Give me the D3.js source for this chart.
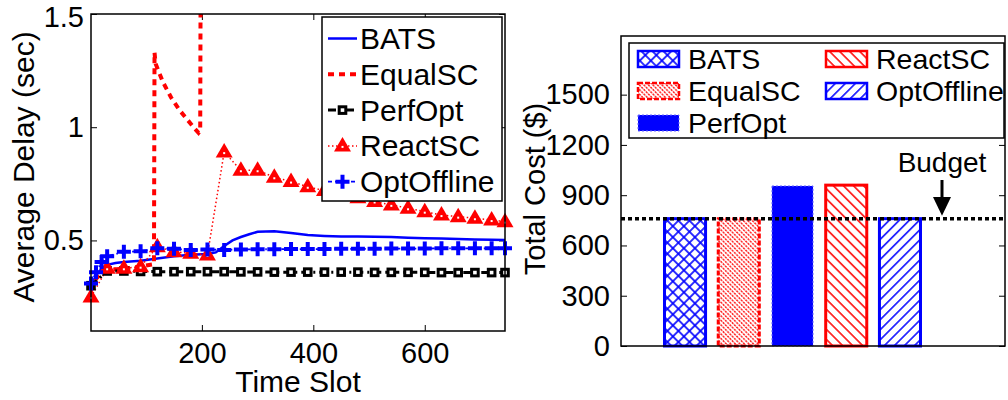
<!DOCTYPE html>
<html>
<head>
<meta charset="utf-8">
<script src="https://cdn.jsdelivr.net/npm/d3@7"></script>
<style>
  html, body { margin: 0; padding: 0; background: #fff; }
  svg text { font-family: "Liberation Sans", Arial, Helvetica, sans-serif; fill: #000; }
</style>
</head>
<body>
<svg id="chart" width="1008" height="400"></svg>
<script>
// ---------------- Average delay per time slot ----------------
const batsSlots  = [1, 10, 20, 30, 45, 60, 90, 120, 150, 180, 210, 225, 240, 255, 270, 285, 300, 330, 360, 390, 420, 450, 480, 510, 540, 570, 600, 630, 660, 690, 720, 744];
const batsDelay  = [0.30, 0.345, 0.375, 0.392, 0.40, 0.405, 0.41, 0.42, 0.43, 0.437, 0.44, 0.447, 0.475, 0.50, 0.515, 0.527, 0.538, 0.54, 0.533, 0.524, 0.52, 0.517, 0.517, 0.516, 0.515, 0.512, 0.51, 0.508, 0.506, 0.504, 0.503, 0.502];

const equalSlots = [1, 10, 20, 30, 60, 90, 114, 115, 117, 130, 145, 160, 175, 185, 194, 197, 198, 744];
const equalDelay = [0.28, 0.33, 0.355, 0.37, 0.375, 0.385, 0.395, 1.33, 1.28, 1.20, 1.13, 1.075, 1.03, 1.0, 0.975, 0.985, 1.9, 2.1];

const perfSlots  = [1, 30, 60, 90, 120, 150, 180, 210, 240, 270, 300, 330, 360, 390, 420, 450, 480, 510, 540, 570, 600, 630, 660, 690, 720, 744];
const perfDelay  = [0.30, 0.365, 0.365, 0.363, 0.362, 0.362, 0.362, 0.362, 0.362, 0.361, 0.361, 0.36, 0.36, 0.36, 0.36, 0.36, 0.36, 0.359, 0.359, 0.359, 0.359, 0.358, 0.358, 0.358, 0.358, 0.358];

const reactSlots = [1, 30, 60, 90, 120, 150, 180, 210, 240, 270, 300, 330, 360, 390, 420, 450, 480, 510, 540, 570, 600, 630, 660, 690, 720, 744];
const reactDelay = [0.25, 0.377, 0.377, 0.384, 0.472, 0.45, 0.443, 0.436, 0.89, 0.81, 0.81, 0.779, 0.76, 0.737, 0.72, 0.703, 0.688, 0.672, 0.657, 0.642, 0.627, 0.612, 0.605, 0.598, 0.59, 0.583];

const offSlots   = [1, 10, 20, 30, 60, 90, 120, 150, 180, 210, 240, 270, 300, 330, 360, 390, 420, 450, 480, 510, 540, 570, 600, 630, 660, 690, 720, 744];
const offDelay   = [0.31, 0.36, 0.405, 0.43, 0.45, 0.452, 0.465, 0.463, 0.458, 0.46, 0.458, 0.46, 0.461, 0.461, 0.462, 0.462, 0.462, 0.463, 0.463, 0.463, 0.464, 0.464, 0.464, 0.465, 0.465, 0.465, 0.465, 0.465];

const slotTicks  = [200, 400, 600];
const delayTicks = [0.5, 1, 1.5];

// ---------------- Total cost per scheme ----------------
const schemes    = ["BATS", "EqualSC", "PerfOpt", "ReactSC", "OptOffline"];
const totalCost  = [760, 760, 955, 960, 760];
const budget     = 760;
const costTicks  = [0, 300, 600, 900, 1200, 1500];

const BLUE = "#0000ff", RED = "#ff0000", BLACK = "#000000";
const svg = d3.select("#chart");
const FONT = "'Liberation Sans', Arial, Helvetica, sans-serif";

// ================= Left panel: delay lines =================
const L = { x0: 91, x1: 505, y0: 14, y1: 331 };
const xSlot  = d3.scaleLinear().domain([1, 744]).range([L.x0, L.x1]);
const yDelay = d3.scaleLinear().domain([0.1, 1.5]).range([L.y1, L.y0]);

const defs = svg.append("defs");
defs.append("clipPath").attr("id", "clipLeft")
  .append("rect").attr("x", L.x0).attr("y", L.y0)
  .attr("width", L.x1 - L.x0).attr("height", L.y1 - L.y0);

const fmt = d => d3.format("~g")(d);

function styleAxis(g, size) {
  g.attr("font-family", FONT).attr("font-size", size);
  g.select(".domain").remove();
  g.selectAll(".tick line").attr("stroke", BLACK).attr("stroke-width", 1);
  g.selectAll(".tick text").attr("fill", BLACK);
}

svg.append("g").attr("transform", `translate(0,${L.y1})`)
  .call(d3.axisBottom(xSlot).tickValues(slotTicks).tickSize(-6).tickPadding(11).tickFormat(fmt))
  .call(g => styleAxis(g, 29));
svg.append("g").attr("transform", `translate(0,${L.y0})`)
  .call(d3.axisTop(xSlot).tickValues(slotTicks).tickSize(-6).tickFormat(""))
  .call(g => styleAxis(g, 29));
svg.append("g").attr("transform", `translate(${L.x0},0)`)
  .call(d3.axisLeft(yDelay).tickValues(delayTicks).tickSize(-6).tickPadding(7).tickFormat(fmt))
  .call(g => styleAxis(g, 29))
  // the top label sits a little below its tick so it stays inside the page
  .call(g => g.selectAll(".tick text").filter(d => d === 1.5).attr("y", 3));
svg.append("g").attr("transform", `translate(${L.x1},0)`)
  .call(d3.axisRight(yDelay).tickValues(delayTicks).tickSize(-6).tickFormat(""))
  .call(g => styleAxis(g, 29));

const series = [
  { name: "BATS",       slots: batsSlots,  delay: batsDelay,  color: BLUE,  width: 2.5, dash: null,          marker: null },
  { name: "EqualSC",    slots: equalSlots, delay: equalDelay, color: RED,   width: 4,   dash: "6,5",         marker: null },
  { name: "PerfOpt",    slots: perfSlots,  delay: perfDelay,  color: BLACK, width: 3,   dash: "8,4,2,4",     marker: "square" },
  { name: "ReactSC",    slots: reactSlots, delay: reactDelay, color: RED,   width: 1.5, dash: "1.5,2.5",     marker: "triangle" },
  { name: "OptOffline", slots: offSlots,   delay: offDelay,   color: BLUE,  width: 1.8, dash: "4,3,1.5,3",   marker: "plus" }
];

const lineGen = d3.line().x(d => xSlot(d[0])).y(d => yDelay(d[1]));

function drawMarker(g, type, x, y, color) {
  if (type === "square") {
    g.append("rect").attr("x", x - 3.3).attr("y", y - 3.3).attr("width", 6.6).attr("height", 6.6)
      .attr("fill", "#fff").attr("stroke", color).attr("stroke-width", 3);
  } else if (type === "triangle") {
    g.append("path").attr("d", `M${x},${y - 9}L${x + 8.5},${y + 5.5}L${x - 8.5},${y + 5.5}Z`)
      .attr("fill", color);
    g.append("rect").attr("x", x - 1).attr("y", y).attr("width", 2).attr("height", 2).attr("fill", "#fff");
  } else if (type === "plus") {
    g.append("path").attr("d", `M${x - 7},${y}H${x + 7}M${x},${y - 7}V${y + 7}`)
      .attr("stroke", color).attr("stroke-width", 4).attr("fill", "none");
  }
}

const linesG = svg.append("g").attr("clip-path", "url(#clipLeft)");
series.forEach(s => {
  const pts = s.slots.map((t, i) => [t, s.delay[i]]);
  linesG.append("path").datum(pts)
    .attr("d", lineGen).attr("fill", "none")
    .attr("stroke", s.color).attr("stroke-width", s.width)
    .attr("stroke-dasharray", s.dash);
});
const markG = svg.append("g");
series.forEach(s => {
  if (!s.marker) return;
  s.slots.forEach((t, i) => {
    if (s.delay[i] > 1.5) return;
    drawMarker(markG, s.marker, xSlot(t), yDelay(s.delay[i]), s.color);
  });
});

svg.append("rect").attr("x", L.x0).attr("y", L.y0)
  .attr("width", L.x1 - L.x0).attr("height", L.y1 - L.y0)
  .attr("fill", "none").attr("stroke", BLACK).attr("stroke-width", 1.5);

// legend for the delay panel
const lg = svg.append("g");
lg.append("rect").attr("x", 322).attr("y", 17).attr("width", 180).attr("height", 184)
  .attr("fill", "#fff").attr("stroke", BLACK).attr("stroke-width", 1.5);
series.forEach((s, i) => {
  const y = 38.5 + i * 35.8;
  lg.append("line").attr("x1", 328).attr("x2", 357).attr("y1", y).attr("y2", y)
    .attr("stroke", s.color).attr("stroke-width", s.width).attr("stroke-dasharray", s.dash);
  if (s.marker) drawMarker(lg, s.marker, 342.5, y, s.color);
  lg.append("text").attr("x", 360).attr("y", y + 10.5).attr("font-size", 30).text(s.name);
});

svg.append("text").attr("x", (L.x0 + L.x1) / 2).attr("y", 392)
  .attr("text-anchor", "middle").attr("font-size", 30).text("Time Slot");
svg.append("text").attr("transform", "translate(34,167) rotate(-90)")
  .attr("text-anchor", "middle").attr("font-size", 30).text("Average Delay (sec)");

// ================= Right panel: total cost bars =================
const R = { x0: 621, x1: 1005, y0: 36, y1: 346 };
const xScheme = d3.scaleBand().domain(schemes).range([663, 922]).paddingInner(0.18).paddingOuter(0);
const yCost = d3.scaleLinear().domain([0, 1850]).range([R.y1, R.y0]);

function hatch(id, color, spacing, angle, width, dash) {
  const p = defs.append("pattern").attr("id", id)
    .attr("patternUnits", "userSpaceOnUse").attr("width", spacing).attr("height", spacing)
    .attr("patternTransform", `rotate(${angle})`);
  p.append("line").attr("x1", spacing / 2).attr("x2", spacing / 2).attr("y1", 0).attr("y2", spacing)
    .attr("stroke", color).attr("stroke-width", width).attr("stroke-dasharray", dash || null);
  return p;
}
const cross = hatch("patBats", BLUE, 7.8, 45, 1.6);
cross.append("line").attr("x1", 0).attr("x2", 7.8).attr("y1", 3.9).attr("y2", 3.9)
  .attr("stroke", BLUE).attr("stroke-width", 1.6);
hatch("patEqual", RED, 3.2, -45, 1.3, "2,1");
hatch("patReact", RED, 7.1, -45, 1.5);
hatch("patOff", BLUE, 7.1, 45, 1.5);

const barStyle = {
  BATS:       { fill: "url(#patBats)",  stroke: BLUE, dash: null,  sw: 3 },
  EqualSC:    { fill: "url(#patEqual)", stroke: RED,  dash: "5,2", sw: 3 },
  PerfOpt:    { fill: BLUE,             stroke: "#6a6aff", dash: "2,2", sw: 1 },
  ReactSC:    { fill: "url(#patReact)", stroke: RED,  dash: null,  sw: 3 },
  OptOffline: { fill: "url(#patOff)",   stroke: BLUE, dash: null,  sw: 3 }
};

svg.append("g").attr("transform", `translate(${R.x0},0)`)
  .call(d3.axisLeft(yCost).tickValues(costTicks).tickSize(-6).tickPadding(11).tickFormat(fmt))
  .call(g => styleAxis(g, 29));
svg.append("g").attr("transform", `translate(${R.x1},0)`)
  .call(d3.axisRight(yCost).tickValues(costTicks).tickSize(-6).tickFormat(""))
  .call(g => styleAxis(g, 29));

svg.append("g").selectAll("rect").data(schemes).join("rect")
  .attr("x", d => xScheme(d) + 1.5)
  .attr("width", xScheme.bandwidth() - 3)
  .attr("y", (d, i) => yCost(totalCost[i]))
  .attr("height", (d, i) => yCost(0) - yCost(totalCost[i]))
  .attr("fill", d => barStyle[d].fill)
  .attr("stroke", d => barStyle[d].stroke)
  .attr("stroke-width", d => barStyle[d].sw)
  .attr("stroke-dasharray", d => barStyle[d].dash);

svg.append("line").attr("x1", R.x0).attr("x2", R.x1)
  .attr("y1", yCost(budget)).attr("y2", yCost(budget))
  .attr("stroke", BLACK).attr("stroke-width", 3.5).attr("stroke-dasharray", "4,3");

svg.append("rect").attr("x", R.x0).attr("y", R.y0)
  .attr("width", R.x1 - R.x0).attr("height", R.y1 - R.y0)
  .attr("fill", "none").attr("stroke", BLACK).attr("stroke-width", 1.5);

// budget annotation
const ax = 942;
svg.append("text").attr("x", ax).attr("y", 172).attr("text-anchor", "middle")
  .attr("font-size", 28).text("Budget");
svg.append("line").attr("x1", ax).attr("x2", ax).attr("y1", 180).attr("y2", 200)
  .attr("stroke", BLACK).attr("stroke-width", 3);
svg.append("path").attr("d", `M${ax - 9},${197}L${ax + 9},${197}L${ax},${yCost(budget) - 3}Z`).attr("fill", BLACK);

// legend for the cost panel
const rg = svg.append("g");
rg.append("rect").attr("x", 629).attr("y", 43).attr("width", 375).attr("height", 95)
  .attr("fill", "#fff").attr("stroke", BLACK).attr("stroke-width", 1.5);
schemes.forEach((s, i) => {
  const col = i < 3 ? 0 : 1;
  const row = i < 3 ? i : i - 3;
  const sx = col === 0 ? 638 : 826;
  const cy = 59 + row * 32;
  const st = barStyle[s];
  rg.append("rect").attr("x", sx).attr("y", cy - 8).attr("width", 41).attr("height", 16)
    .attr("fill", st.fill).attr("stroke", st.stroke)
    .attr("stroke-width", st.sw === 3 ? 2.5 : st.sw).attr("stroke-dasharray", st.dash);
  rg.append("text").attr("x", sx + 50).attr("y", cy + 10).attr("font-size", 28.5).text(s);
});

svg.append("text").attr("transform", "translate(545,189) rotate(-90)")
  .attr("text-anchor", "middle").attr("font-size", 29).text("Total Cost ($)");
</script>
</body>
</html>
